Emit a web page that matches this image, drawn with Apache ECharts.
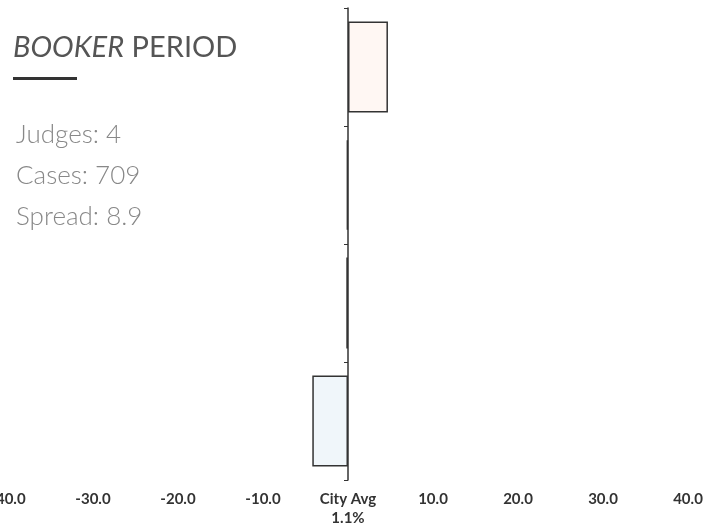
<!DOCTYPE html>
<html>
<head>
<meta charset="utf-8">
<script src="https://cdn.jsdelivr.net/npm/echarts@6/dist/echarts.min.js"></script>
<style>
  html, body { margin: 0; padding: 0; background: #fff; }
  #chart { width: 717px; height: 527px; }
</style>
</head>
<body>
<div id="chart"></div>
<script>
// judges (one bar each), values are points above / below the city average
var judges = ['Judge 1', 'Judge 2', 'Judge 3', 'Judge 4'];
var diffs = [4.7, -0.15, -0.2, -4.2];
var cityAvg = '1.1%';

// panel text
var periodName = 'BOOKER';
var statLabels = ['Judges', 'Cases', 'Spread'];
var statValues = ['4', '709', '8.9'];

var chart = echarts.init(document.getElementById('chart'));

// bars above the average are pink, below are blue
var barData = diffs.map(function (v) {
    return {
        value: v,
        itemStyle: { color: v >= 0 ? '#fff7f3' : '#f0f6fa' }
    };
});

var statText = statLabels.map(function (l, i) {
    return {
        type: 'text',
        left: 16,
        top: 122 + i * 41,
        style: {
            text: l + ': ' + statValues[i],
            font: '300 26px Lato',
            fill: '#888'
        }
    };
});

var option = {
    animation: false,
    grid: { left: 8, right: 29, top: 8, bottom: 47, containLabel: false, outerBoundsMode: 'none' },
    xAxis: {
        type: 'value',
        min: -40,
        max: 40,
        interval: 10,
        axisLine: { show: false },
        axisTick: { show: false },
        splitLine: { show: false },
        axisLabel: {
            margin: 10,
            color: '#333',
            fontFamily: 'Lato',
            fontWeight: 'bold',
            fontSize: 15,
            lineHeight: 19,
            formatter: function (v) {
                return v === 0 ? 'City Avg\n' + cityAvg : v.toFixed(1);
            }
        }
    },
    yAxis: {
        type: 'category',
        data: judges,
        inverse: true,
        axisLine: { onZero: true, lineStyle: { color: '#333', width: 1.5 } },
        axisTick: { show: true, length: 4, lineStyle: { color: '#333' } },
        axisLabel: { show: false },
        splitLine: { show: false }
    },
    graphic: [
        {
            type: 'text',
            left: 13,
            top: 33,
            style: {
                text: '{i|' + periodName + '} PERIOD',
                font: '29px Lato',
                fill: '#555',
                rich: {
                    i: { fontStyle: 'italic', fontSize: 29, fontFamily: 'Lato', fill: '#555' }
                }
            }
        },
        {
            type: 'rect',
            left: 13,
            top: 77,
            shape: { width: 64, height: 3 },
            style: { fill: '#333' }
        }
    ].concat(statText),
    series: [{
        type: 'bar',
        data: barData,
        barWidth: '77%',
        itemStyle: { borderColor: '#333', borderWidth: 1.5 }
    }]
};

chart.setOption(option);
</script>
</body>
</html>
